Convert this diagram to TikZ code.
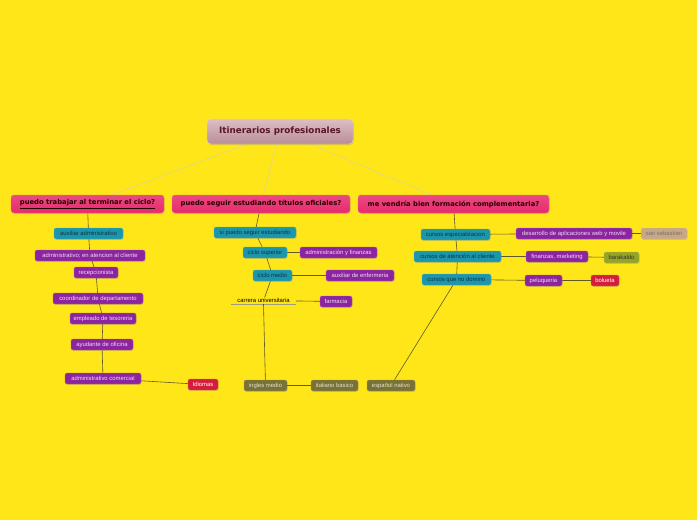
\documentclass[tikz,border=0pt]{standalone}
\usepackage{fontspec}
\setmainfont{Liberation Sans}
\newfontfamily\headfont{DejaVu Sans}
\usetikzlibrary{shadows}
\pgfdeclarelayer{background}
\pgfsetlayers{background,main}
\definecolor{bgyellow}{RGB}{255,230,24}
\definecolor{tealbox}{RGB}{28,150,170}
\definecolor{purplebox}{RGB}{140,36,160}
\definecolor{redbox}{RGB}{210,30,60}
\definecolor{olivebox}{RGB}{122,114,50}
\definecolor{tanbox}{RGB}{200,168,130}
\definecolor{greenbox}{RGB}{150,164,36}
\definecolor{pinkbox}{RGB}{231,42,108}
\definecolor{roottop}{RGB}{222,190,197}
\definecolor{rootbot}{RGB}{184,142,152}
\definecolor{roottext}{RGB}{90,20,40}
\definecolor{paleline}{RGB}{222,212,150}
\definecolor{darkline}{RGB}{95,88,40}
\definecolor{tealtext}{RGB}{15,50,70}
\tikzset{
  x=1pt,y=-1pt,
  box/.style={rounded corners=2pt, minimum height=11pt, inner xsep=2pt, inner ysep=0pt,
    font=\fontsize{5.9}{7}\selectfont, drop shadow={shadow xshift=0.6pt, shadow yshift=-0.8pt, opacity=0.25}},
  tealnode/.style={box, fill=tealbox, draw=tealbox!70!white, line width=0.4pt, text=tealtext},
  purplenode/.style={box, fill=purplebox, draw=purplebox!70!white, line width=0.4pt, text=white!85!purplebox},
  rednode/.style={box, fill=redbox, draw=redbox!70!white, line width=0.4pt, text=white},
  olivenode/.style={box, fill=olivebox, draw=olivebox!70!white, line width=0.4pt, text=white!80!olivebox},
  tannode/.style={box, fill=tanbox, draw=tanbox!70!white, line width=0.4pt, text=black!55},
  greennode/.style={box, fill=greenbox, draw=greenbox!70!white, line width=0.4pt, text=black!80},
  question/.style={rounded corners=3pt, minimum height=18pt, inner xsep=6pt,
    top color=pinkbox!85!white, bottom color=pinkbox, 
    draw=pinkbox!70!white, line width=0.4pt, text=black!85!red,
    font=\headfont\bfseries\fontsize{6.8}{8}\selectfont,
    drop shadow={shadow xshift=0.6pt, shadow yshift=-0.8pt, opacity=0.25}},
  rootnode/.style={rounded corners=4pt, minimum height=25pt, minimum width=146pt,
    top color=roottop, bottom color=rootbot,
    draw=roottop!70!white, line width=0.4pt, text=roottext,
    font=\headfont\bfseries\fontsize{8.8}{10}\selectfont,
    drop shadow={shadow xshift=0.8pt, shadow yshift=-1pt, opacity=0.3}},
  plain/.style={font=\fontsize{5.9}{7}\selectfont, text=black, inner sep=1pt, minimum width=65pt},
  pale/.style={draw=paleline, line width=0.6pt},
  link/.style={draw=darkline, line width=0.6pt},
}
\begin{document}
\begin{tikzpicture}
\begin{pgfonlayer}{background}
\fill[bgyellow] (0,0) rectangle (697,520);
\end{pgfonlayer}
\useasboundingbox (0,0) rectangle (697,520);

% root and questions
\node[rootnode] (root) at (280,131.5) {Itinerarios profesionales};
\node[question, minimum width=153pt] (q1) at (87.5,204) {\underline{puedo trabajar al terminar el ciclo?}};
\node[question, minimum width=178pt] (q2) at (261,204) {puedo seguir estudiando títulos oficiales?};
\node[question, minimum width=191pt] (q3) at (453.5,204) {me vendría bien formación complementaria?};

% left column
\node[tealnode, minimum width=69pt] (aux) at (88.5,233.5) {auxiliar administrativo};
\node[purplenode, minimum width=110pt] (adm) at (90,255.5) {administrativo; en atencion al cliente};
\node[purplenode, minimum width=44pt] (rec) at (96,272.5) {recepcionista};
\node[purplenode, minimum width=90pt] (coo) at (98,298.5) {coordinador de departamento};
\node[purplenode, minimum width=66pt] (emp) at (103,318.5) {empleado de tesoreria};
\node[purplenode, minimum width=62pt] (ayu) at (102,344.5) {ayudante de oficina};
\node[purplenode, minimum width=76pt] (com) at (103,378.5) {administrativo comercial};
\node[rednode, minimum width=30pt] (idi) at (203,384.5) {Idiomas};

% middle column
\node[tealnode, minimum width=82pt] (sip) at (255,232.5) {si puedo seguir estudiando};
\node[tealnode, minimum width=44pt] (csu) at (265,252.5) {ciclo superior};
\node[purplenode, minimum width=77pt] (afi) at (338.5,252.5) {administración y finanzas};
\node[tealnode, minimum width=39pt] (cme) at (272.5,275.5) {ciclo medio};
\node[purplenode, minimum width=68pt] (aen) at (360,275.5) {auxiliar de enfermeria};
\node[plain] (car) at (263.5,300.5) {carrera universitaria};
\node[purplenode, minimum width=32pt] (far) at (336,301.5) {farmacia};
\node[olivenode, minimum width=43pt] (ing) at (265.5,385.5) {ingles medio};
\node[olivenode, minimum width=47pt] (ita) at (334.5,385.5) {italiano basico};
\node[olivenode, minimum width=48pt] (esp) at (391,385.5) {español nativo};

% right column
\node[tealnode, minimum width=69pt] (cesp) at (455.5,234.5) {cursos especializacion};
\node[purplenode, minimum width=116pt] (dev) at (574,233.5) {desarrollo de aplicaciones web y movile};
\node[tannode, minimum width=46pt] (san) at (664,233.5) {san sebastian};
\node[tealnode, minimum width=87pt] (cat) at (457.5,256.5) {cursos de atención al cliente};
\node[purplenode, minimum width=62pt] (fin) at (557,256.5) {finanzas, marketing};
\node[greennode, minimum width=35pt] (bar) at (621.5,257.5) {barakaldo};
\node[tealnode, minimum width=69pt] (cno) at (456.5,279.5) {cursos que no domino};
\node[purplenode, minimum width=37pt] (pel) at (543.5,280.5) {peluqueria};
\node[rednode, minimum width=28pt] (bol) at (605,280.5) {bolueta};

% connectors
\begin{pgfonlayer}{background}
\draw[darkline!60, line width=0.5pt] (car.south west) -- (car.south east);
\draw[pale] (root) -- (q1);
\draw[pale] (root) -- (q2);
\draw[pale] (root) -- (q3);

\draw[link] (q1) -- (aux);
\draw[link] (aux) -- (adm);
\draw[link] (adm) -- (rec);
\draw[link] (rec) -- (coo);
\draw[link] (coo) -- (emp);
\draw[link] (emp) -- (ayu);
\draw[link] (ayu) -- (com);
\draw[link] (com) -- (idi);

\draw[link] (q2) -- (sip);
\draw[link] (sip) -- (csu);
\draw[link] (csu) -- (afi);
\draw[link] (csu) -- (cme);
\draw[link] (cme) -- (aen);
\draw[link] (cme) -- (car);
\draw[link] (car) -- (far);
\draw[link] (car.south) -- (ing);
\draw[link] (ing) -- (ita);

\draw[link] (q3) -- (cesp);
\draw[link] (cesp) -- (dev);
\draw[link] (dev) -- (san);
\draw[link] (cesp) -- (cat);
\draw[link] (cat) -- (fin);
\draw[link] (fin) -- (bar);
\draw[link] (cat) -- (cno);
\draw[link] (cno) -- (pel);
\draw[link] (pel) -- (bol);
\draw[link] (cno) -- (esp);
\end{pgfonlayer}
\end{tikzpicture}
\end{document}
